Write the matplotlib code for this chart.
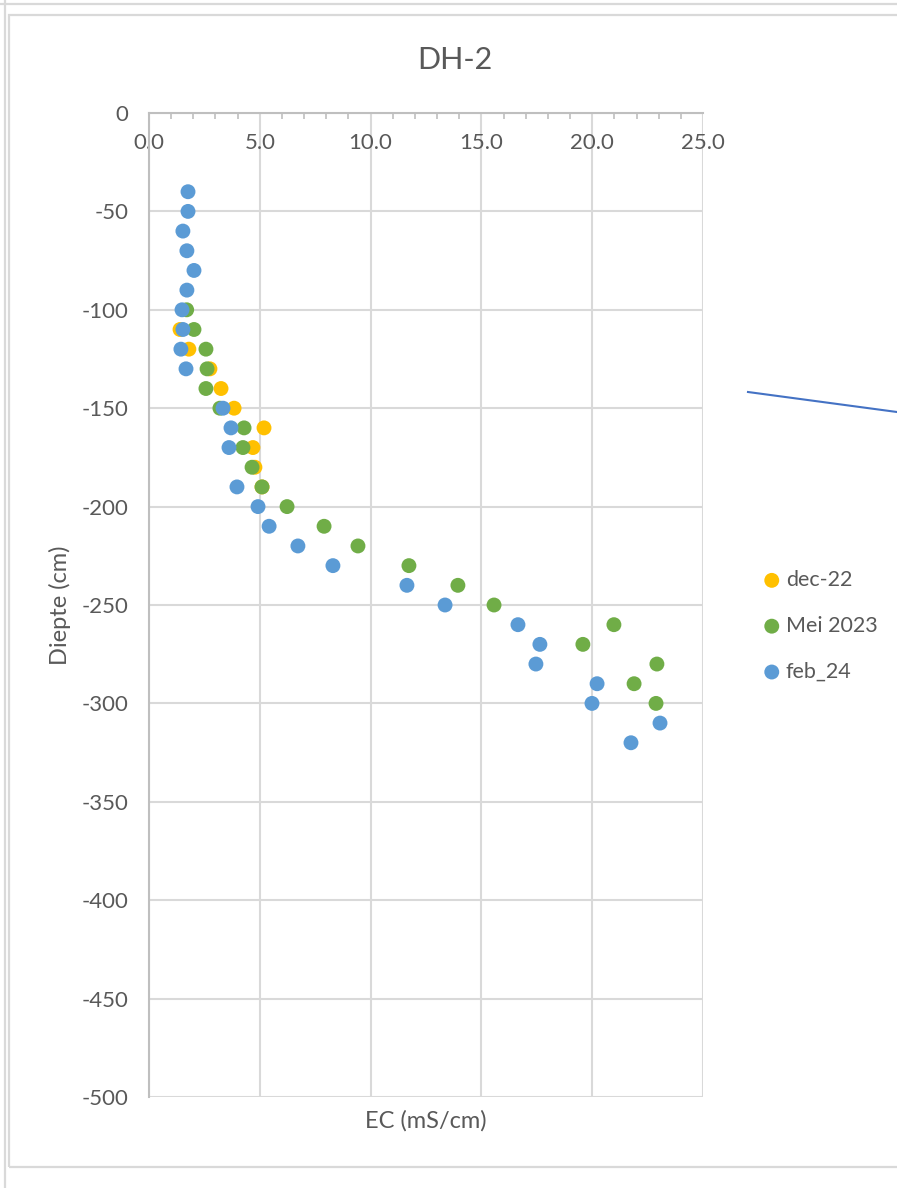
import matplotlib
matplotlib.use("Agg")
import matplotlib.pyplot as plt
from matplotlib.lines import Line2D
from matplotlib.patches import Rectangle
from matplotlib.ticker import MultipleLocator, FormatStrFormatter

# ----------------------------------------------------
# Data (EC in mS/cm, depth in cm)
# ----------------------------------------------------
dec22_depth = [-110, -120, -130, -140, -150, -160, -170, -180, -190]
dec22_ec = [1.40, 1.80, 2.75, 3.25, 3.84, 5.19, 4.69, 4.78, 5.10]

mei23_depth = [-100, -110, -120, -130, -140, -150, -160, -170, -180, -190,
               -200, -210, -220, -230, -240, -250, -260, -270, -280, -290, -300]
mei23_ec = [1.70, 2.03, 2.57, 2.62, 2.57, 3.20, 4.29, 4.24, 4.65, 5.10,
            6.23, 7.90, 9.43, 11.73, 13.94, 15.57, 20.98, 19.58, 22.92, 21.89, 22.88]

feb24_depth = [-40, -50, -60, -70, -80, -90, -100, -110, -120, -130,
               -150, -160, -170, -190, -200, -210, -220, -230, -240, -250,
               -260, -270, -280, -290, -300, -310, -320]
feb24_ec = [1.76, 1.76, 1.53, 1.71, 2.03, 1.71, 1.49, 1.53, 1.44, 1.67,
            3.34, 3.70, 3.61, 3.97, 4.92, 5.42, 6.72, 8.30, 11.64, 13.36,
            16.65, 17.64, 17.46, 20.22, 19.99, 23.06, 21.75]

series = [
    ("dec-22", dec22_ec, dec22_depth, "#FFC000"),
    ("Mei 2023", mei23_ec, mei23_depth, "#70AD47"),
    ("feb_24", feb24_ec, feb24_depth, "#5B9BD5"),
]

TEXT = "#595959"
GRID = "#D9D9D9"
AXIS = "#BFBFBF"

plt.rcParams["font.family"] = ["Lato", "DejaVu Sans"]
plt.rcParams["axes.unicode_minus"] = False

# ----------------------------------------------------
# Figure + chart frame
# ----------------------------------------------------
W, H = 897, 1188
fig = plt.figure(figsize=(W / 100, H / 100), dpi=100)

# screenshot frame lines
fig.add_artist(Line2D([5 / W, 5 / W], [0, 1], color=GRID, lw=1.6))
fig.add_artist(Line2D([0, 1], [1 - 4 / H, 1 - 4 / H], color=GRID, lw=1.6))
fig.add_artist(Rectangle((9 / W, 1 - 1167 / H), 1.2, (1167 - 15) / H,
                         transform=fig.transFigure, fill=False,
                         edgecolor=GRID, lw=1.6))

ax = fig.add_axes([149 / W, 1 - 1097 / H, (703 - 149) / W, (1097 - 113) / H])

for label, ec, depth, color in series:
    ax.scatter(ec, depth, s=115, color=color, edgecolors="none",
               label=label, zorder=3)

ax.set_xlim(0, 25)
ax.set_ylim(-500, 0)

ax.xaxis.set_major_locator(MultipleLocator(5))
ax.xaxis.set_minor_locator(MultipleLocator(1))
ax.xaxis.set_major_formatter(FormatStrFormatter("%.1f"))
ax.yaxis.set_major_locator(MultipleLocator(50))

ax.grid(True, which="major", color=GRID, lw=1.5, zorder=0)
ax.set_axisbelow(True)

for side in ["right", "bottom"]:
    ax.spines[side].set_visible(False)
for side in ["left", "top"]:
    ax.spines[side].set_color(AXIS)
    ax.spines[side].set_linewidth(1.5)

ax.tick_params(axis="x", which="both", top=True, bottom=False,
               labeltop=True, labelbottom=False, direction="in",
               color=AXIS, width=1.2)
ax.tick_params(axis="x", which="major", length=0, pad=-29,
               labelsize=16, labelcolor=TEXT)
ax.tick_params(axis="x", which="minor", length=4)
ax.tick_params(axis="y", length=0, pad=15, labelsize=16, labelcolor=TEXT)

ax.set_xlabel("EC (mS/cm)", fontsize=17, color=TEXT)
ax.xaxis.set_label_position("bottom")
ax.xaxis.set_label_coords(0.5, -0.024)
ax.xaxis.label.set_va("center")

ax.set_ylabel("Diepte (cm)", fontsize=17, color=TEXT)
ax.yaxis.set_label_coords(-0.161, 0.5)
ax.yaxis.label.set_va("center")

fig.text(455 / W, 1 - 60 / H, "DH-2", fontsize=22, color=TEXT,
         ha="center", va="center")

# stray connector line from the source screenshot
fig.add_artist(Line2D([748 / W, 1.0], [1 - 392 / H, 1 - 412 / H],
                      color="#4472C4", lw=1.5))

ax.legend(loc="upper left", bbox_to_anchor=(761 / W, 1 - 570 / H),
          bbox_transform=fig.transFigure, frameon=False, fontsize=15.5,
          labelcolor=TEXT, handletextpad=0.15, labelspacing=1.2,
          handlelength=1.0, borderpad=0, borderaxespad=0)

plt.savefig("out.png", dpi=100)
